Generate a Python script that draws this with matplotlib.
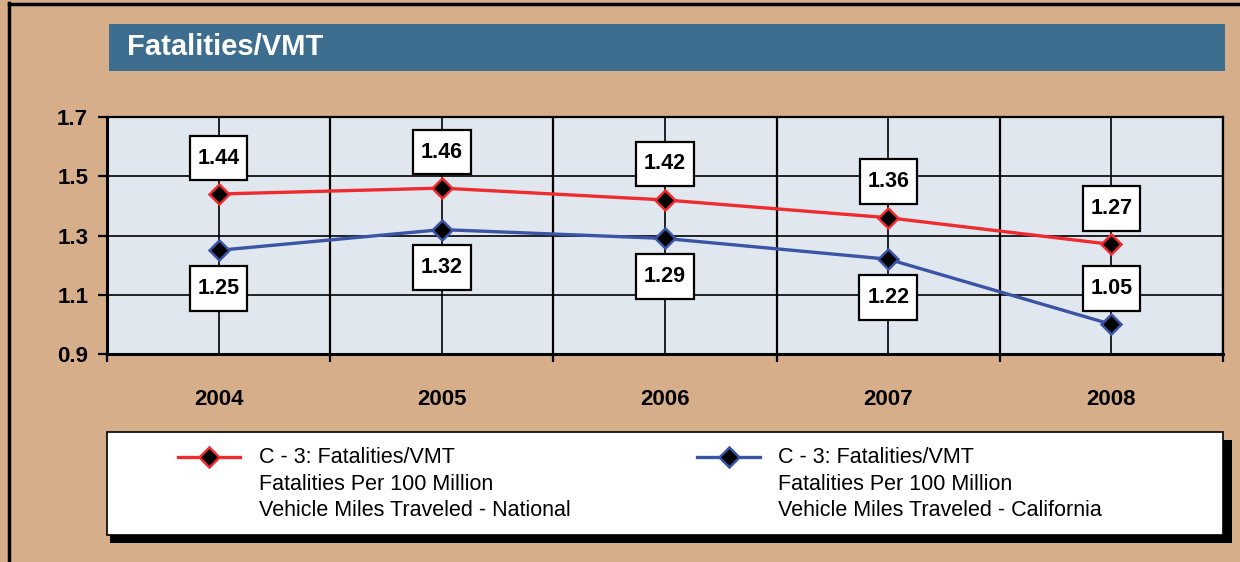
import matplotlib
matplotlib.use('Agg')
import matplotlib.pyplot as plt
from matplotlib.patches import Rectangle
from matplotlib.lines import Line2D
from matplotlib.path import Path

plt.rcParams['font.family'] = ['Liberation Sans', 'DejaVu Sans']

# data
years = ['2004', '2005', '2006', '2007', '2008']
national = [1.44, 1.46, 1.42, 1.36, 1.27]
national_labels = ['1.44', '1.46', '1.42', '1.36', '1.27']
california = [1.25, 1.32, 1.29, 1.22, 1.00]
california_labels = ['1.25', '1.32', '1.29', '1.22', '1.05']
california_label_side = [-1, -1, -1, -1, 1]   # -1 below the point, 1 above
y_ticks = [0.9, 1.1, 1.3, 1.5, 1.7]
title = 'Fatalities/VMT'
legend_national = 'C - 3: Fatalities/VMT\nFatalities Per 100 Million\nVehicle Miles Traveled - National'
legend_california = 'C - 3: Fatalities/VMT\nFatalities Per 100 Million\nVehicle Miles Traveled - California'

TAN = '#d6ae89'
PLOT_BG = '#e1e7ee'
BANNER = '#3d6e8f'
RED = '#ee2b2f'
BLUE = '#3b54a5'

W, H = 1240, 562


def fx(px):
    return px / W


def fy(py):
    return 1 - py / H


def label_box(x0, y0, width, height, mutation_size):
    # box with more room above/below than at the sides
    px = 0.36 * mutation_size
    py = 0.55 * mutation_size
    x0, x1 = x0 - px, x0 + width + px
    y0, y1 = y0 - py, y0 + height + py
    return Path([(x0, y0), (x1, y0), (x1, y1), (x0, y1), (x0, y0)], closed=True)


fig = plt.figure(figsize=(W / 100, H / 100), dpi=100, facecolor=TAN)

# outer frame (left and top edges)
fig.add_artist(Line2D([fx(9), fx(9)], [fy(3), 0], transform=fig.transFigure, color='black', lw=2.5))
fig.add_artist(Line2D([fx(9), 1], [fy(3.5), fy(3.5)], transform=fig.transFigure, color='black', lw=2.5))

# title banner
fig.add_artist(Rectangle((fx(109), fy(71)), fx(1225) - fx(109), fy(24) - fy(71),
                         transform=fig.transFigure, facecolor=BANNER, edgecolor='none'))
fig.text(fx(127), fy(47), title, color='white', fontsize=21, fontweight='bold',
         va='center', ha='left')

# plot area
ax = fig.add_axes([fx(107), fy(354), fx(1223) - fx(107), fy(117) - fy(354)])
ax.set_facecolor(PLOT_BG)
x = list(range(len(years)))
ax.set_xlim(-0.5, len(years) - 0.5)
ax.set_ylim(0.9, 1.7)
ax.set_yticks(y_ticks)
ax.set_yticklabels([f'{v:.1f}' for v in y_ticks], fontsize=16, fontweight='bold')
ax.set_xticks(x)
ax.set_xticklabels(years, fontsize=16, fontweight='bold')
ax.set_xticks([i - 0.5 for i in range(len(years) + 1)], minor=True)
ax.tick_params(axis='x', which='major', length=0, pad=25)
ax.tick_params(axis='x', which='minor', length=6, width=1.6, direction='out')
ax.tick_params(axis='y', length=6.5, width=1.6, pad=7)
ax.set_axisbelow(True)
ax.grid(axis='y', color='black', lw=1.2)
ax.grid(axis='x', which='major', color='black', lw=1.2)
ax.grid(axis='x', which='minor', color='black', lw=1.6)
for s in ax.spines.values():
    s.set_linewidth(1.6)
ax.spines['left'].set_linewidth(2.2)
ax.spines['bottom'].set_linewidth(2.2)

ax.plot(x, national, color=RED, lw=2.4, marker='D', ms=10, mfc='black', mec=RED, mew=1.8, zorder=3)
ax.plot(x, california, color=BLUE, lw=2.4, marker='D', ms=10, mfc='black', mec=BLUE, mew=1.8, zorder=3)

box = dict(boxstyle=label_box, facecolor='white', edgecolor='black', lw=1.6)
for xi, v, t in zip(x, national, national_labels):
    ax.annotate(t, (xi, v), xytext=(0, 36), textcoords='offset pixels', ha='center', va='center',
                fontsize=15.5, fontweight='bold', bbox=box, zorder=5)
for xi, v, t, side in zip(x, california, california_labels, california_label_side):
    ax.annotate(t, (xi, v), xytext=(0, (38 if side < 0 else 36) * side), textcoords='offset pixels',
                ha='center', va='center', fontsize=15.5, fontweight='bold', bbox=box, zorder=5)

# legend box with shadow
fig.add_artist(Rectangle((fx(110), fy(543)), fx(1232) - fx(110), fy(440) - fy(543),
                         transform=fig.transFigure, facecolor='black', edgecolor='none'))
fig.add_artist(Rectangle((fx(107), fy(535)), fx(1223) - fx(107), fy(432) - fy(535),
                         transform=fig.transFigure, facecolor='white', edgecolor='black', lw=1.2))

for (x0, x1, xt), color, label in [((178, 240, 259), RED, legend_national),
                                   ((697, 760, 778), BLUE, legend_california)]:
    fig.add_artist(Line2D([fx(x0), fx((x0 + x1) / 2), fx(x1)], [fy(457)] * 3,
                          transform=fig.transFigure, color=color, lw=2.4, marker='D', ms=10,
                          mfc='black', mec=color, mew=1.8, markevery=[1]))
    fig.text(fx(xt), fy(484), label, fontsize=15.5, ha='left', va='center', linespacing=1.33)

fig.savefig('out.png', dpi=100, facecolor=TAN)
